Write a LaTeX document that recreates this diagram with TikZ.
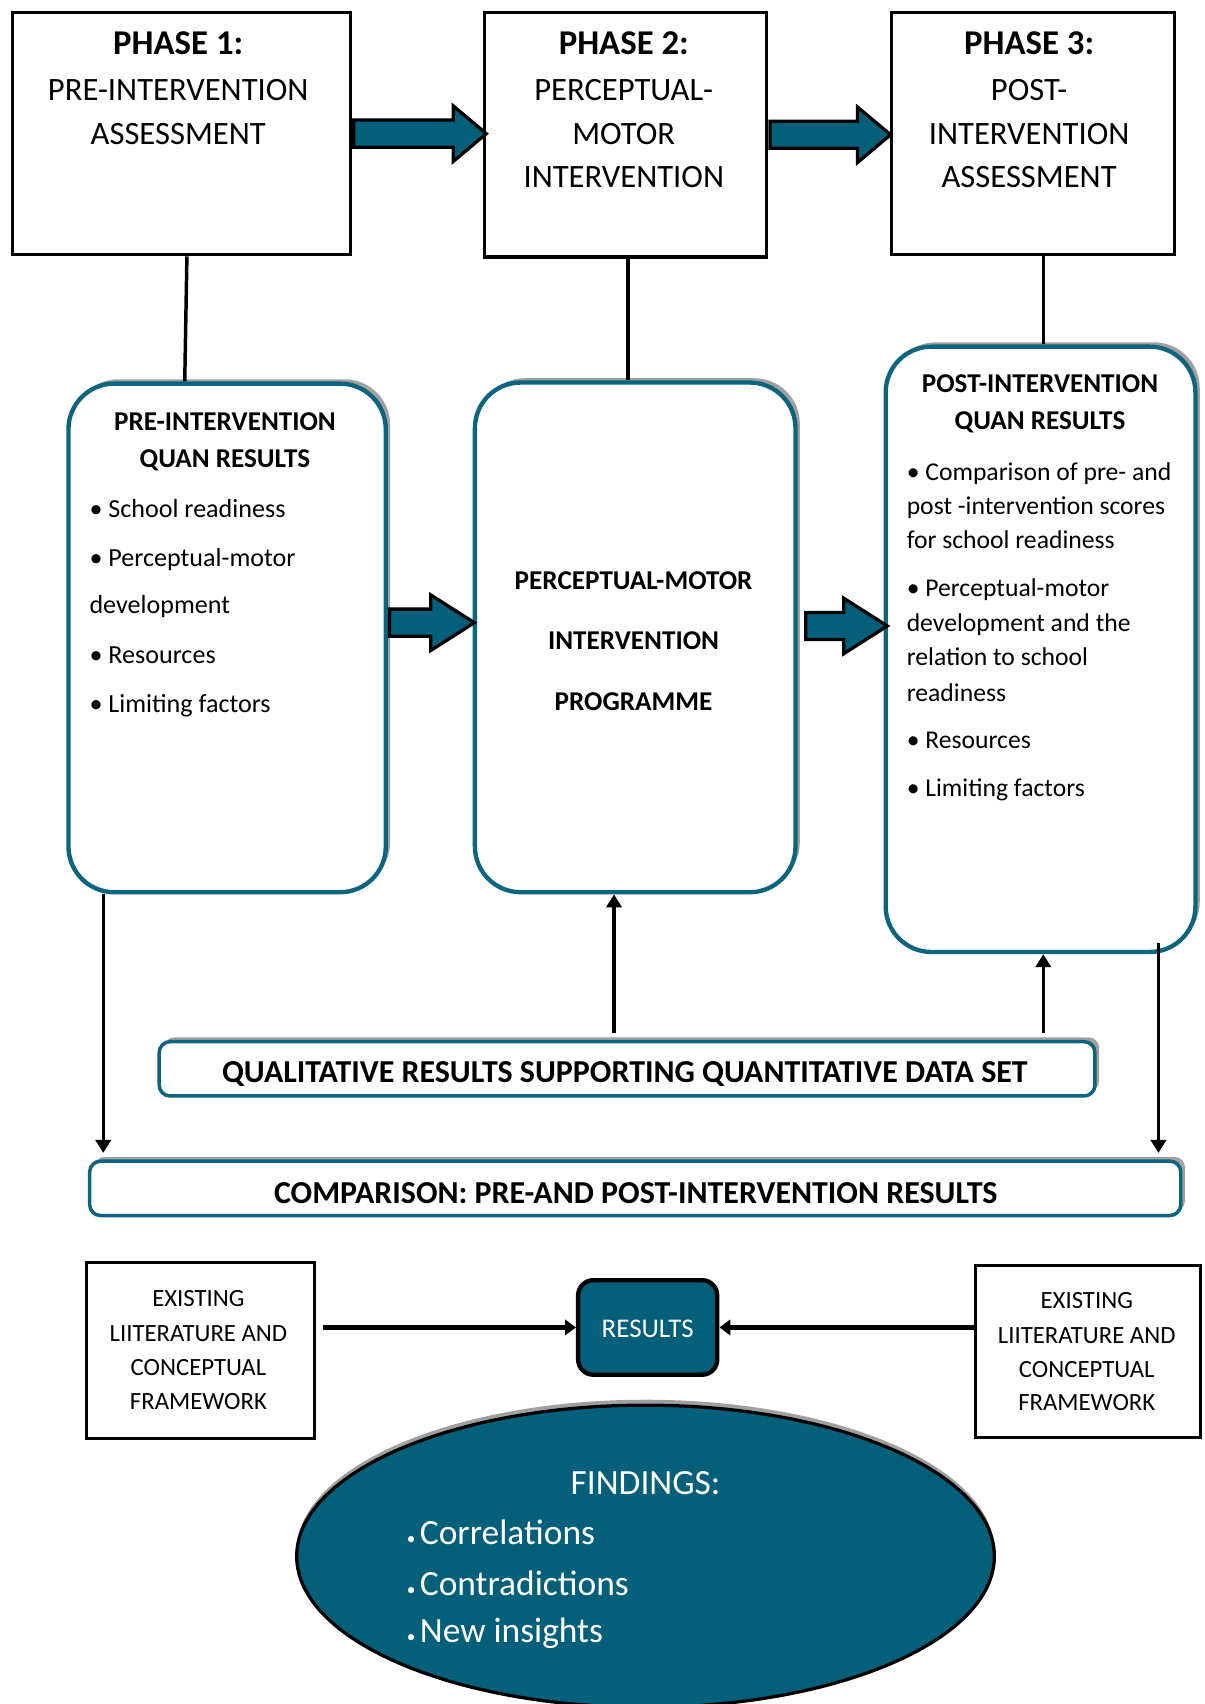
\documentclass[tikz,border=0pt]{standalone}
\usepackage{fontspec}
\setmainfont{Carlito}
\usetikzlibrary{shapes.arrows,shapes.geometric,shadows,arrows.meta,calc}
\definecolor{tealf}{RGB}{4,96,122}
\definecolor{tealb}{RGB}{12,100,126}
\definecolor{shad}{RGB}{160,160,160}
\newcommand{\myfs}[1]{\fontsize{#1}{#1}\selectfont}
\begin{document}
\begin{tikzpicture}[x=0.5pt,y=-0.5pt,
  phasebox/.style={draw, line width=1.5pt, inner sep=0, fill=white},
  quanbox/.style={draw=tealb, line width=2pt, fill=white, rounded corners=21pt, inner sep=0,
    drop shadow={shadow xshift=2pt, shadow yshift=2pt, fill=shad, opacity=1}},
  bandbox/.style={draw=tealb, line width=1.6pt, fill=white, rounded corners=5pt, inner sep=0,
    drop shadow={shadow xshift=2pt, shadow yshift=2pt, fill=shad, opacity=1}},
  litbox/.style={draw, line width=1.5pt, inner sep=0, fill=white},
  resbox/.style={draw, line width=2pt, fill=tealf, rounded corners=7pt, inner sep=0},
  findell/.style={ellipse, draw, line width=1.5pt, fill=tealf, inner sep=0,
    drop shadow={shadow xshift=0pt, shadow yshift=2.5pt, fill=shad, opacity=1}},
  barrow/.style={single arrow, draw, line width=1.5pt, fill=tealf, inner xsep=0pt, inner ysep=5.5pt,
    minimum width=24pt, single arrow head extend=6.5pt, anchor=tail},
  conn/.style={line width=1.6pt},
  arr/.style={line width=1.5pt, -{Triangle[length=6pt,width=7pt]}},
  arrb/.style={line width=2pt, -{Triangle[length=5pt,width=7pt]}},
  tx/.style={inner sep=0, anchor=base},
  txl/.style={inner sep=0, anchor=base west},
  tph/.style={tx, font=\bfseries\myfs{16pt}},
  tpr/.style={tx, font=\myfs{15pt}},
  tqb/.style={tx, font=\bfseries\myfs{12.5pt}},
  tbul/.style={txl, font=\myfs{12pt}},
  tbulc/.style={txl, font=\myfs{11.8pt}},
  tband/.style={tx, font=\bfseries\myfs{14.7pt}},
  tlit/.style={tx, font=\myfs{11.4pt}},
  tres/.style={tx, font=\myfs{12.4pt}, text=white},
  tfind/.style={tx, font=\myfs{16.3pt}, text=white},
  tfindl/.style={txl, font=\myfs{16.3pt}, text=white}
]
\useasboundingbox (0,0) rectangle (1108,1568);

% phase boxes
\node[phasebox, minimum width=155.5pt, minimum height=111.5pt] (p1) at (167,123) {};
\node[phasebox, minimum width=130pt, minimum height=112.5pt] (p2) at (575.5,124) {};
\node[phasebox, minimum width=130pt, minimum height=111.5pt] (p3) at (950.5,123) {};

\node[tph] (p1a) at (164,50.5) {PHASE 1:};
\node[tpr] (p1b) at (164,92.5) {PRE-INTERVENTION};
\node[tpr] (p1c) at (164,133) {ASSESSMENT};

\node[tph] (p2a) at (574,50.5) {PHASE 2:};
\node[tpr] (p2b) at (574,92.5) {PERCEPTUAL-};
\node[tpr] (p2c) at (574,133) {MOTOR};
\node[tpr] (p2d) at (574,172.3) {INTERVENTION};

\node[tph] (p3a) at (947,50.5) {PHASE 3:};
\node[tpr] (p3b) at (947,92.5) {POST-};
\node[tpr] (p3c) at (947,133) {INTERVENTION};
\node[tpr] (p3d) at (947,172.3) {ASSESSMENT};

% quantitative boxes
\node[quanbox, minimum width=146pt, minimum height=234pt] (qa) at (209,587) {};
\node[quanbox, minimum width=147.5pt, minimum height=234.5pt] (qb) at (584.5,586.5) {};
\node[quanbox, minimum width=142.5pt, minimum height=278.5pt] (qc) at (957.5,597.5) {};

\node[tqb] (qa1) at (207,396) {PRE-INTERVENTION};
\node[tqb] (qa2) at (207,430.5) {QUAN RESULTS};
\node[tbul] (qa3) at (82,476) {• School readiness};
\node[tbul] (qa4) at (82,521.7) {• Perceptual-motor};
\node[tbul] (qa5) at (82,564.5) {development};
\node[tbul] (qa6) at (82,610.5) {• Resources};
\node[tbul] (qa7) at (82,655.5) {• Limiting factors};

\node[tqb] (qb1) at (583,542.4) {PERCEPTUAL-MOTOR};
\node[tqb] (qb2) at (583,598) {INTERVENTION};
\node[tqb] (qb3) at (583,654) {PROGRAMME};

\node[tqb] (qc1) at (957,361.5) {POST-INTERVENTION};
\node[tqb] (qc2) at (957,395.6) {QUAN RESULTS};
\node[tbulc] (qc3) at (834,441.7) {• Comparison of pre- and};
\node[tbulc] (qc4) at (834,473.2) {post -intervention scores};
\node[tbulc] (qc5) at (834,504.7) {for school readiness};
\node[tbulc] (qc6) at (834,549.3) {• Perceptual-motor};
\node[tbulc] (qc7) at (834,580.7) {development and the};
\node[tbulc] (qc8) at (834,612.7) {relation to school};
\node[tbulc] (qc9) at (834,645.3) {readiness};
\node[tbulc] (qc10) at (834,689.2) {• Resources};
\node[tbulc] (qc11) at (834,732.7) {• Limiting factors};

% band boxes
\node[bandbox, minimum width=430.5pt, minimum height=25pt] (qual) at (577,983.5) {};
\node[tband] (qualt) at (575,996.5) {QUALITATIVE RESULTS SUPPORTING QUANTITATIVE DATA SET};
\node[bandbox, minimum width=502pt, minimum height=25pt] (comp) at (584.5,1093.5) {};
\node[tband] (compt) at (585,1107) {COMPARISON: PRE-AND POST-INTERVENTION RESULTS};

% bottom boxes
\node[litbox, minimum width=105pt, minimum height=81pt] (litL) at (184.5,1242.5) {};
\node[tlit] (l1) at (182.6,1202.3) {EXISTING};
\node[tlit] (l2) at (182.6,1234.3) {LIITERATURE AND};
\node[tlit] (l3) at (182.6,1266) {CONCEPTUAL};
\node[tlit] (l4) at (182.6,1297.3) {FRAMEWORK};

\node[litbox, minimum width=103.5pt, minimum height=79pt] (litR) at (1001,1243.5) {};
\node[tlit] (r1) at (1000,1203.8) {EXISTING};
\node[tlit] (r2) at (1000,1235.9) {LIITERATURE AND};
\node[tlit] (r3) at (1000,1267.3) {CONCEPTUAL};
\node[tlit] (r4) at (1000,1298.3) {FRAMEWORK};

\node[resbox, minimum width=64pt, minimum height=43.5pt] (res) at (596,1221.5) {};
\node[tres] (rest) at (596,1230.5) {RESULTS};

\node[findell, minimum width=321pt, minimum height=139pt] (find) at (594,1432) {};
\node[tfind] (f0) at (594,1375) {FINDINGS:};
\node[tfindl] (f1) at (374,1421) {{\myfs{8pt}•}\hspace{2pt}Correlations};
\node[tfindl] (f2) at (374,1468.5) {{\myfs{8pt}•}\hspace{2pt}Contradictions};
\node[tfindl] (f3) at (374,1511.5) {{\myfs{8pt}•}\hspace{2pt}New insights};

% connectors
\draw[conn] ([xshift=2.5pt]p1.south) -- ([xshift=1.5pt]p1.south |- qa.north);
\draw[conn] ([xshift=1.25pt]p2.south) -- ([xshift=1.25pt]p2.south |- qb.north);
\draw[conn] ([xshift=1.25pt]qc.north |- p3.south) -- ([xshift=1.25pt]qc.north);

\draw[arr, shorten >=3pt] ([xshift=17pt]qa.south west) -- ([xshift=17pt]qa.south west |- comp.north);
\draw[arr, shorten >=3pt] ([xshift=-18pt,yshift=5pt]qc.south east) -- ([xshift=-18pt]qc.south east |- comp.north);

\coordinate (u1) at (565,0);
\coordinate (u2) at (960,0);
\draw[arr, shorten <=3pt] (u1 |- qual.north) -- (u1 |- qb.south);
\draw[arr, shorten <=3pt] (u2 |- qual.north) -- (u2 |- qc.south);

\draw[arrb, shorten <=3pt] (litL.east |- res.west) -- (res.west);
\draw[arrb] (litR.west |- res.east) -- (res.east);

% block arrows
\node[barrow, minimum height=61pt, single arrow tip angle=80] (a1) at (p1.east) {};
\node[barrow, minimum height=55.5pt, single arrow tip angle=80] (a2) at (p2.east) {};
\node[barrow, minimum height=39pt, single arrow tip angle=65] (a3) at ([yshift=7pt]qa.east) {};
\node[barrow, minimum height=37.5pt, single arrow tip angle=65] (a4) at ([xshift=3pt,yshift=5.25pt]qb.east) {};
\end{tikzpicture}
\end{document}
